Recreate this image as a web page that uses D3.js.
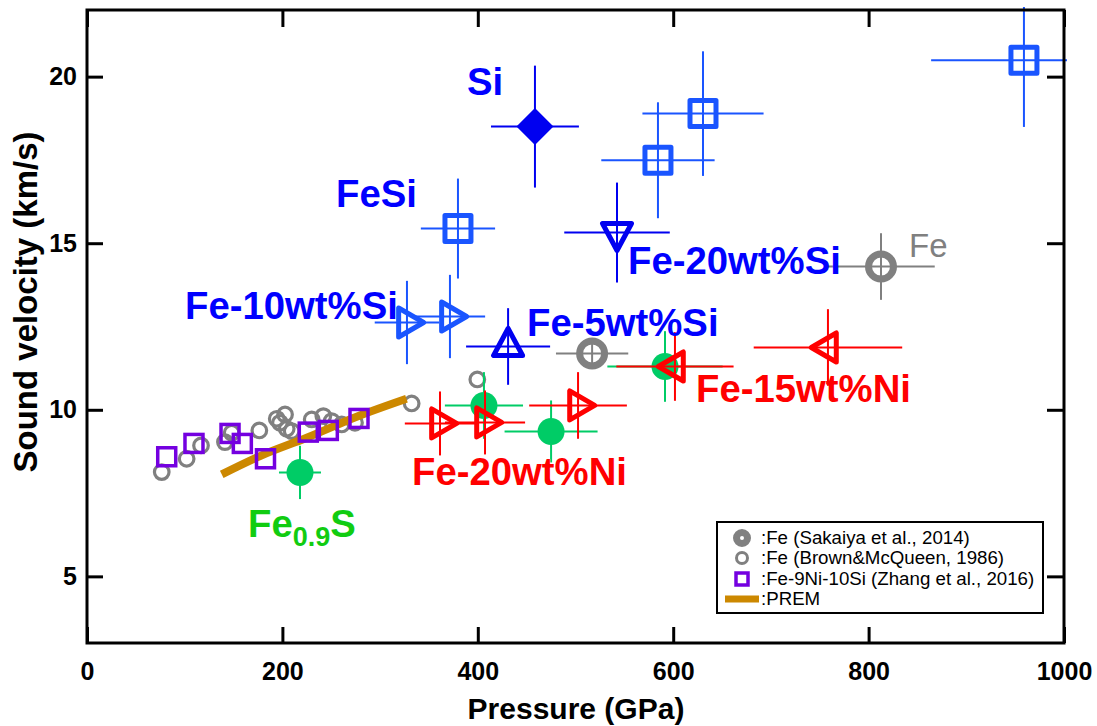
<!DOCTYPE html>
<html>
<head>
<meta charset="utf-8">
<script src="https://cdn.jsdelivr.net/npm/d3@7"></script>
<style>
  html, body { margin: 0; padding: 0; background: #fff; }
  svg { display: block; }
</style>
</head>
<body>
<svg id="chart" width="1097" height="726"></svg>
<script>
// ---------- DATA (pressure GPa, velocity km/s, pressure error, velocity error) ----------
const xTicks = [0, 200, 400, 600, 800, 1000];
const yTicks = [5, 10, 15, 20];

const siPts        = [[458.5, 18.50, 45, 1.83]];
const feSiPts      = [[379.7, 15.44, 38, 1.50], [584.4, 17.49, 58, 1.74], [630.5, 18.89, 62, 1.87], [959.0, 20.49, 95, 2.00]];
const fe20SiPts    = [[542.5, 15.32, 54, 1.50]];
const fe10SiPts    = [[327.5, 12.62, 33, 1.25], [371.5, 12.80, 36, 1.25]];
const fe5SiPts     = [[431.0, 11.90, 43, 1.15]];
const feSakaiyaPts = [[517.0, 11.69, 37, 0.30], [812.7, 14.30, 55, 1.00]];
const fe20NiPts    = [[361.3, 9.59, 36, 0.96], [407.4, 9.62, 41, 0.96], [502.6, 10.13, 50, 1.00]];
const fe15NiPts    = [[601.8, 11.30, 60, 1.03], [758.4, 11.87, 76, 1.15]];
const fe09SPts     = [[218.0, 8.12, 21.5, 0.80], [406.3, 10.13, 40, 1.00], [475.0, 9.35, 47.6, 0.93], [591.6, 11.30, 59, 1.06]];

const brownP = [76.5, 102, 116.7, 141.2, 148.1, 176.4, 194.2, 202.7, 197.5, 204.4, 209.5, 230, 241.9, 250.5, 260.7, 274.3, 332.3, 399.5];
const brownV = [8.13, 8.53, 8.93, 9.03, 9.31, 9.38, 9.73, 9.86, 9.61, 9.43, 9.36, 9.71, 9.81, 9.66, 9.56, 9.61, 10.19, 10.91];

const zhangP = [81.6, 109.5, 146.4, 159.0, 182.7, 226.5, 247.0, 278.4];
const zhangV = [8.59, 8.99, 9.29, 8.99, 8.53, 9.33, 9.38, 9.74];

const premP = [137.9, 177.1, 224.9, 276.0, 327.0];
const premV = [8.06, 8.61, 9.16, 9.79, 10.33];

const legendLabels = [":Fe (Sakaiya et al., 2014)", ":Fe (Brown&McQueen, 1986)", ":Fe-9Ni-10Si (Zhang et al., 2016)", ":PREM"];

// ---------- SETUP ----------
const FONT = "'Liberation Sans', Arial, Helvetica, sans-serif";
const svg = d3.select("#chart");
const x = d3.scaleLinear().domain([0, 1000]).range([87, 1064]);
const y = d3.scaleLinear().domain([3, 22]).range([643, 10]);

const C = {
  blueText: "#0000ff", blueDark: "#0000f0", blueLight: "#1a55ff",
  red: "#ff0000", green: "#00cc66", greenText: "#11cc11",
  gray: "#808080", purple: "#7400e0", prem: "#cc8800"
};

svg.append("defs").append("clipPath").attr("id", "clip")
  .append("rect").attr("x", 84).attr("y", 7).attr("width", 1067 - 84).attr("height", 646 - 7);

const plot = svg.append("g").attr("clip-path", "url(#clip)");

// ---------- helpers ----------
function errorBars(g, pts, color, w) {
  const gg = g.append("g").attr("stroke", color).attr("stroke-width", w || 2);
  pts.forEach(d => {
    gg.append("line").attr("x1", x(d[0] - d[2])).attr("x2", x(d[0] + d[2])).attr("y1", y(d[1])).attr("y2", y(d[1]));
    gg.append("line").attr("x1", x(d[0])).attr("x2", x(d[0])).attr("y1", y(d[1] - d[3])).attr("y2", y(d[1] + d[3]));
  });
}
function triPath(dir, w, h) {
  const a = 2 * w / 3, b = -w / 3, hh = h / 2;
  let pts;
  if (dir === "right") pts = [[a, 0], [b, -hh], [b, hh]];
  if (dir === "left")  pts = [[-a, 0], [-b, -hh], [-b, hh]];
  if (dir === "up")    pts = [[0, -a], [-hh, -b], [hh, -b]];
  if (dir === "down")  pts = [[0, a], [-hh, b], [hh, b]];
  return "M" + pts.map(p => p.join(",")).join("L") + "Z";
}
function markers(g, pts, path, attrs) {
  const sel = g.selectAll(null).data(pts).enter().append("path")
    .attr("d", path)
    .attr("transform", d => `translate(${x(d[0])},${y(d[1])})`);
  Object.entries(attrs).forEach(([k, v]) => sel.attr(k, v));
  return sel;
}

// ---------- Brown & McQueen (small open gray circles) ----------
const brown = brownP.map((p, i) => [p, brownV[i]]);
plot.append("g").selectAll("circle").data(brown).enter().append("circle")
  .attr("cx", d => x(d[0])).attr("cy", d => y(d[1])).attr("r", 7.3)
  .attr("fill", "none").attr("stroke", C.gray).attr("stroke-width", 3.2);

// ---------- PREM ----------
const prem = premP.map((p, i) => [p, premV[i]]);
plot.append("path").datum(prem)
  .attr("d", d3.line().x(d => x(d[0])).y(d => y(d[1])).curve(d3.curveMonotoneX))
  .attr("fill", "none").attr("stroke", C.prem).attr("stroke-width", 8);

// ---------- Zhang (purple squares) ----------
const zhang = zhangP.map((p, i) => [p, zhangV[i]]);
plot.append("g").selectAll("rect").data(zhang).enter().append("rect")
  .attr("x", d => x(d[0]) - 9).attr("y", d => y(d[1]) - 9).attr("width", 18).attr("height", 18)
  .attr("fill", "none").attr("stroke", C.purple).attr("stroke-width", 3.5);

// ---------- Fe0.9S (green filled circles) ----------
const gGreen = plot.append("g");
errorBars(gGreen, fe09SPts, C.green, 2);
gGreen.selectAll("circle").data(fe09SPts).enter().append("circle")
  .attr("cx", d => x(d[0])).attr("cy", d => y(d[1])).attr("r", 13.5).attr("fill", C.green);

// ---------- Fe-Ni (red triangles) ----------
const gRed = plot.append("g");
errorBars(gRed, fe20NiPts, C.red, 2);
errorBars(gRed, fe15NiPts, C.red, 2);
const triStyle = c => ({ fill: "none", stroke: c, "stroke-width": 5, "stroke-linejoin": "round" });
markers(gRed, fe20NiPts, triPath("right", 25, 29), triStyle(C.red));
markers(gRed, fe15NiPts, triPath("left", 25, 29), triStyle(C.red));

// ---------- Fe-Si / Si (blue) ----------
const gBlue = plot.append("g");
errorBars(gBlue, feSiPts, C.blueLight, 2);
errorBars(gBlue, fe10SiPts, C.blueLight, 2);
errorBars(gBlue, siPts, C.blueDark, 2);
errorBars(gBlue, fe20SiPts, C.blueDark, 2);
errorBars(gBlue, fe5SiPts, C.blueDark, 2);
markers(gBlue, feSiPts, "M-13,-13H13V13H-13Z", { fill: "none", stroke: C.blueLight, "stroke-width": 5, "stroke-linejoin": "round" });
markers(gBlue, fe10SiPts, triPath("right", 25, 29), triStyle(C.blueLight));
markers(gBlue, fe20SiPts, triPath("down", 27, 29), triStyle(C.blueDark));
markers(gBlue, fe5SiPts, triPath("up", 27, 29), triStyle(C.blueDark));
markers(gBlue, siPts, "M0,-18.5L18.5,0L0,18.5L-18.5,0Z", { fill: C.blueDark });

// ---------- Sakaiya Fe (big gray rings) ----------
const gGray = plot.append("g");
errorBars(gGray, feSakaiyaPts, C.gray, 2);
gGray.selectAll("circle").data(feSakaiyaPts).enter().append("circle")
  .attr("cx", d => x(d[0])).attr("cy", d => y(d[1])).attr("r", 12.5)
  .attr("fill", "none").attr("stroke", C.gray).attr("stroke-width", 7);

// ---------- Axes ----------
const axG = svg.append("g").attr("font-family", FONT);
const xAxis = axG.append("g").attr("transform", "translate(0,643)")
  .call(d3.axisBottom(x).tickValues(xTicks).tickFormat(d3.format("d")).tickSizeInner(-16).tickSizeOuter(0).tickPadding(19));
const yAxis = axG.append("g").attr("transform", "translate(87,0)")
  .call(d3.axisLeft(y).tickValues(yTicks).tickFormat(d3.format("d")).tickSizeInner(-16).tickSizeOuter(0).tickPadding(10));
const xTop = axG.append("g").attr("transform", "translate(0,10)")
  .call(d3.axisTop(x).tickValues(xTicks).tickFormat("").tickSizeInner(-17).tickSizeOuter(0));
const yRight = axG.append("g").attr("transform", "translate(1064,0)")
  .call(d3.axisRight(y).tickValues(yTicks).tickFormat("").tickSizeInner(-17).tickSizeOuter(0));
[xAxis, yAxis, xTop, yRight].forEach(a => {
  a.select(".domain").remove();
  a.selectAll(".tick line").attr("stroke", "#000").attr("stroke-width", 3);
  a.selectAll(".tick text").attr("font-size", 25).attr("font-weight", "bold").attr("fill", "#000").attr("font-family", FONT);
});
svg.append("rect").attr("x", 87).attr("y", 10).attr("width", 1064 - 87).attr("height", 643 - 10)
  .attr("fill", "none").attr("stroke", "#000").attr("stroke-width", 3);

svg.append("text").attr("x", 576).attr("y", 719).attr("text-anchor", "middle")
  .attr("font-family", FONT).attr("font-weight", "bold").attr("font-size", 30).text("Pressure (GPa)");
svg.append("text").attr("transform", "translate(37,302) rotate(-90)").attr("text-anchor", "middle")
  .attr("font-family", FONT).attr("font-weight", "bold").attr("font-size", 33).text("Sound velocity (km/s)");

// ---------- Annotations ----------
function label(txt, px, py, color, size, weight) {
  return svg.append("text").attr("x", px).attr("y", py).attr("fill", color)
    .attr("font-family", FONT).attr("font-weight", weight || "bold").attr("font-size", size || 38.3).text(txt);
}
label("Si", 467, 95, C.blueText);
label("FeSi", 336, 207, C.blueText);
label("Fe-20wt%Si", 628, 274, C.blueText);
label("Fe-10wt%Si", 185, 319, C.blueText);
label("Fe-5wt%Si", 527, 336, C.blueText);
label("Fe-15wt%Ni", 696, 402, C.red);
label("Fe-20wt%Ni", 412, 485, C.red);
label("Fe", 909, 257, C.gray, 33, "normal");
const fes = svg.append("text").attr("x", 248).attr("y", 537).attr("fill", C.greenText)
  .attr("font-family", FONT).attr("font-weight", "bold").attr("font-size", 38.3);
fes.append("tspan").text("Fe");
fes.append("tspan").attr("font-size", 27).attr("dy", 9).text("0.9");
fes.append("tspan").attr("dy", -9).text("S");

// ---------- Legend ----------
const lg = svg.append("g").attr("font-family", FONT);
lg.append("rect").attr("x", 717).attr("y", 522).attr("width", 326).attr("height", 91)
  .attr("fill", "#fff").attr("stroke", "#000").attr("stroke-width", 2);
const rowsY = [538, 558, 579, 599];
lg.append("circle").attr("cx", 742).attr("cy", rowsY[0]).attr("r", 5.5).attr("fill", "none").attr("stroke", C.gray).attr("stroke-width", 7);
lg.append("circle").attr("cx", 742).attr("cy", rowsY[1]).attr("r", 5.5).attr("fill", "none").attr("stroke", C.gray).attr("stroke-width", 3);
lg.append("rect").attr("x", 736).attr("y", rowsY[2] - 6).attr("width", 12).attr("height", 12).attr("fill", "none").attr("stroke", C.purple).attr("stroke-width", 3.5);
lg.append("line").attr("x1", 725).attr("x2", 759).attr("y1", rowsY[3]).attr("y2", rowsY[3]).attr("stroke", C.prem).attr("stroke-width", 7);
lg.selectAll("text.leg").data(legendLabels).enter().append("text").attr("class", "leg")
  .attr("x", 761).attr("y", (d, i) => rowsY[i] + 6).attr("font-size", 18.7).attr("fill", "#000").text(d => d);
</script>
</body>
</html>
